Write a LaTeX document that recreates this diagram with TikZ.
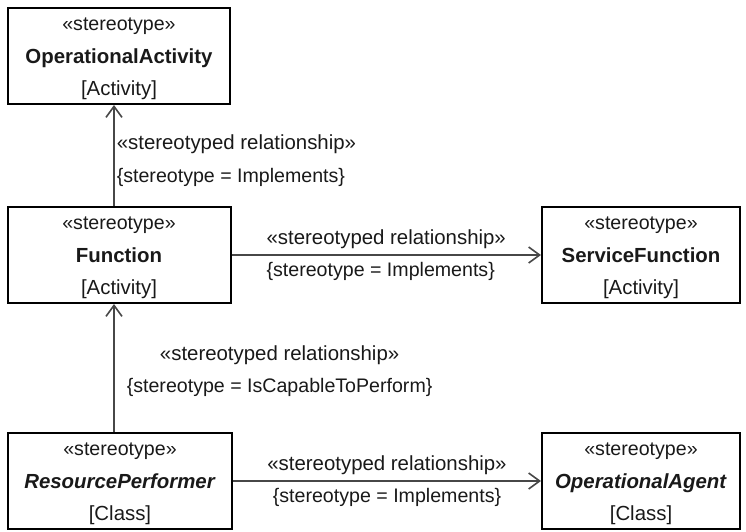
\documentclass[tikz,border=0pt]{standalone}
\usepackage{fontspec}
\setmainfont{Liberation Sans}
\usetikzlibrary{arrows.meta}
\newcommand\tagfont{\fontsize{19.6}{32.5}\selectfont}

\begin{document}
\begin{tikzpicture}[x=1pt,y=-1pt,>={Straight Barb[length=11pt,width=16pt]},font=\fontsize{20.4}{32.5}\selectfont,
  uml/.style={draw,line width=2pt,align=center,minimum height=96pt,inner sep=0pt,text=black!90},
  rel/.style={->,draw=black!72,line width=1.6pt},
  lbl/.style={inner sep=2pt,text=black!90}]
\useasboundingbox (0,0) rectangle (746,531);
\node[uml,minimum width=222pt] (oa) at (119,56) {\rule{0pt}{19pt}{\tagfont «stereotype»}\\\textbf{OperationalActivity}\\{}[Activity]};
\node[uml,minimum width=223pt] (func) at (119,255) {\rule{0pt}{19pt}{\tagfont «stereotype»}\\\textbf{Function}\\{}[Activity]};
\node[uml,minimum width=198pt] (sf) at (641,255) {\rule{0pt}{19pt}{\tagfont «stereotype»}\\\textbf{ServiceFunction}\\{}[Activity]};
\node[uml,minimum width=224pt] (rp) at (120,481) {\rule{0pt}{19pt}{\tagfont «stereotype»}\\\textbf{\itshape ResourcePerformer}\\{}[Class]};
\node[uml,minimum width=198pt] (oag) at (641,481) {\rule{0pt}{19pt}{\tagfont «stereotype»}\\\textbf{\itshape OperationalAgent}\\{}[Class]};
\draw[rel] ([xshift=-5pt]func.north)--node[midway,right,lbl,align=left,yshift=-5pt] {«stereotyped relationship»\\{\tagfont\{stereotype = Implements\}}} ([xshift=-5pt]oa.south);
\draw[rel] (func)--node[midway,lbl,align=left] {«stereotyped relationship»\\{\tagfont\{stereotype = Implements\}}} (sf);
\draw[rel] ([xshift=-6pt]rp.north)--node[midway,right,lbl,align=center,xshift=10pt,yshift=-3pt] {«stereotyped relationship»\\{\tagfont\{stereotype = IsCapableToPerform\}}} ([xshift=-5pt]func.south);
\draw[rel] (rp)--node[midway,lbl,align=center] {«stereotyped relationship»\\{\tagfont\{stereotype = Implements\}}} (oag);
\end{tikzpicture}
\end{document}
